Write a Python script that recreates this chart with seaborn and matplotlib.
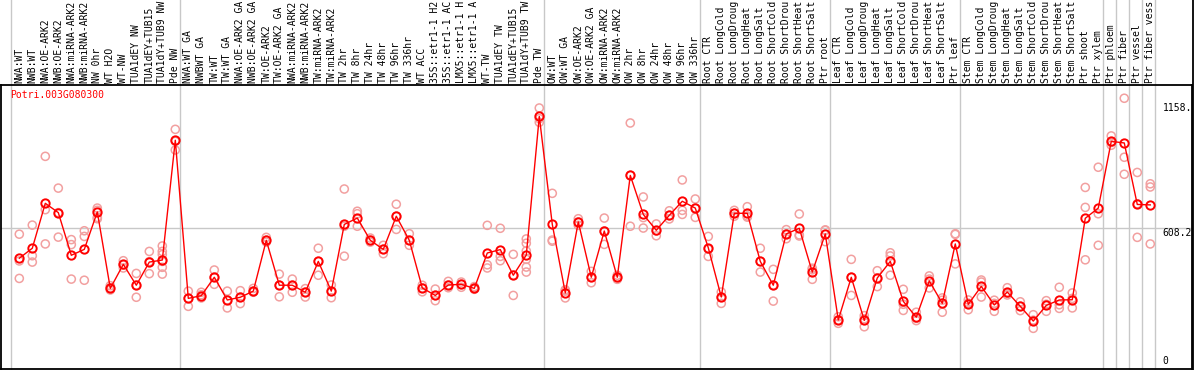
import pandas as pd
import seaborn as sns
import matplotlib.pyplot as plt
from matplotlib.lines import Line2D

gene = "Potri.003G080300"

labels = [
    "NWA:WT", "NWB:WT", "NWA:OE-ARK2", "NWB:OE-ARK2", "NWA:miRNA-ARK2", "NWB:miRNA-ARK2",
    "NW 0hr", "WT H2O", "WT-NW", "TUA1dEY NW", "TUA1dEY+TUB15", "TUA1dY+TUB9 NW", "Pde NW",
    "NWA:WT GA", "NWBWT GA", "TW:WT", "TW:WT GA", "NWA:OE-ARK2 GA", "NWB:OE-ARK2 GA",
    "TW:OE-ARK2", "TW:OE-ARK2 GA", "NWA:miRNA-ARK2", "NWB:miRNA-ARK2", "TW:miRNA-ARK2",
    "TW:miRNA-ARK2", "TW 2hr", "TW 8hr", "TW 24hr", "TW 48hr", "TW 96hr", "TW 336hr", "WT ACC",
    "35S::etr1-1 H2", "35S::etr1-1 AC", "LMX5::etr1-1 H", "LMX5::etr1-1 A", "WT-TW",
    "TUA1dEY TW", "TUA1dEY+TUB15", "TUA1dY+TUB9 TW", "Pde TW",
    "OW:WT", "OW:WT GA", "OW:OE-ARK2", "OW:OE-ARK2 GA", "OW:miRNA-ARK2", "OW:miRNA-ARK2",
    "OW 2hr", "OW 8hr", "OW 24hr", "OW 48hr", "OW 96hr", "OW 336hr",
    "Root CTR", "Root LongCold", "Root LongDroug", "Root LongHeat", "Root LongSalt",
    "Root ShortCold", "Root ShortDrou", "Root ShortHeat", "Root ShortSalt", "Ptr root",
    "Leaf CTR", "Leaf LongCold", "Leaf LongDroug", "Leaf LongHeat", "Leaf LongSalt",
    "Leaf ShortCold", "Leaf ShortDrou", "Leaf ShortHeat", "Leaf ShortSalt", "Ptr leaf",
    "Stem CTR", "Stem LongCold", "Stem LongDroug", "Stem LongHeat", "Stem LongSalt",
    "Stem ShortCold", "Stem ShortDrou", "Stem ShortHeat", "Stem ShortSalt", "Ptr shoot",
    "Ptr xylem", "Ptr phloem", "Ptr fiber", "Ptr vessel", "Ptr fiber vess",
]

means = [
    475, 519, 717, 676, 488, 514, 679, 342, 448, 356, 458, 467, 995,
    298, 310, 391, 291, 303, 330, 554, 356, 356, 325, 461, 330, 624, 652, 554, 514, 660,
    554, 344, 311, 357, 360, 342, 498, 513, 400, 489, 1100,
    624, 322, 635, 391, 595, 391, 840, 668, 598, 664, 726, 696,
    521, 304, 673, 673, 461, 356, 582, 607, 414, 582,
    203, 391, 201, 388, 461, 285, 215, 375, 276, 538,
    272, 351, 269, 326, 263, 198, 267, 291, 292, 651, 696, 990, 983, 712, 710,
]

replicates = [
    [581, 463, 386], [621, 486, 458], [924, 689, 538], [784, 676, 568], [557, 535, 383],
    [596, 571, 378], [696, 686, 655, 649], [354, 344, 335], [464, 445, 432], [408, 356, 303],
    [505, 460, 407], [529, 505, 491, 461, 435, 405], [1043, 990, 952],
    [330, 298, 263], [325, 314, 300], [423, 391, 360], [330, 291, 256], [332, 303, 275],
    [342, 330, 325], [567, 554, 546], [405, 356, 305], [383, 356, 325], [341, 325, 304],
    [519, 461, 400], [357, 330, 301], [780, 616, 484], [682, 671, 616], [564, 554, 546],
    [532, 514, 495], [713, 660, 602], [583, 554, 532], [356, 344, 327], [339, 311, 288],
    [373, 357, 345], [370, 360, 347], [350, 344, 338], [620, 446, 432], [607, 483, 464],
    [492, 400, 311], [560, 541, 507, 470, 436, 414], [1137, 1090, 1074],
    [761, 555, 550], [336, 330, 300], [649, 635, 620], [417, 391, 367], [652, 595, 536],
    [400, 391, 382], [1071, 840, 616], [745, 654, 608], [626, 595, 574], [684, 664, 648],
    [820, 686, 668], [736, 696, 655],
    [571, 515, 483], [326, 304, 276], [686, 673, 660], [702, 661, 656], [519, 461, 414],
    [426, 356, 286], [601, 582, 561], [670, 578, 573], [431, 425, 382], [598, 600, 548],
    [217, 203, 188], [470, 391, 311], [222, 208, 173], [420, 388, 350], [499, 485, 400],
    [338, 272, 245], [237, 210, 200], [397, 383, 344], [300, 290, 237], [583, 580, 450],
    [291, 277, 248], [379, 370, 304], [290, 276, 241], [345, 320, 313], [283, 263, 244],
    [226, 202, 166], [288, 272, 241], [347, 270, 254], [322, 298, 256], [787, 699, 468],
    [876, 671, 532], [1014, 985, 973], [1180, 920, 845], [853, 715, 567], [803, 789, 538],
]

# index of the last sample in each group (separator drawn just after it)
group_ends = [-1, 12, 40, 52, 62, 72, 83, 84, 85, 86, 87]
y_ticks = [1158.0, 608.2, 0]
y_tick_text = ["1158.", "608.2", "0"]

mean_df = pd.DataFrame({"pos": range(len(means)), "value": means})
rep_df = pd.DataFrame(
    [(i, v) for i, vals in enumerate(replicates) for v in vals],
    columns=["pos", "value"],
)

fig = plt.figure(figsize=(11.94, 3.70), dpi=100)
ax = fig.add_axes([1 / 1194, 1 / 370, 1191 / 1194, 284 / 370])

mono = "DejaVu Sans Mono"

# separators, running up through the label strip
for g in group_ends:
    ax.plot([g + 0.36, g + 0.36], [0, 1.31], color="#c8c8c8", lw=1,
            transform=ax.get_xaxis_transform(), clip_on=False, zorder=0)
ax.axhline(608.2, color="#c8c8c8", lw=1, zorder=0)

sns.scatterplot(data=rep_df, x="pos", y="value", ax=ax, marker="o",
                facecolor="none", edgecolor="#f2a0a0", linewidth=1.1, s=34,
                legend=False, zorder=2)
sns.lineplot(data=mean_df, x="pos", y="value", ax=ax, color="red", lw=1,
             marker="o", markersize=6, markerfacecolor="none",
             markeredgecolor="red", markeredgewidth=1.4, zorder=3)

ax.set_xlim(-1.408, 90.21)
ax.set_ylim(-13.2, 1238.4)
ax.set_xticks([])
ax.set_yticks([])
ax.set_xlabel("")
ax.set_ylabel("")
for sp in ax.spines.values():
    sp.set_color("black")
    sp.set_linewidth(1.3)

for i, lab in enumerate(labels):
    ax.text(i, 1.0065, lab, rotation=90, ha="center", va="bottom",
            fontsize=7, family=mono, transform=ax.get_xaxis_transform(),
            clip_on=False)

for v, t in zip(y_ticks, y_tick_text):
    ax.text(87.95, v, t, ha="left", va="top" if v > 0 else "bottom",
            fontsize=7, family=mono, color="black")

ax.text(0.0076, 0.982, gene, transform=ax.transAxes, ha="left", va="top",
        fontsize=7, family=mono, color="red")

fig.add_artist(Line2D([1192.5 / 1194, 1192.5 / 1194], [0, 1], color="black",
                      lw=1.3, transform=fig.transFigure))

fig.savefig("out.png", dpi=100)
